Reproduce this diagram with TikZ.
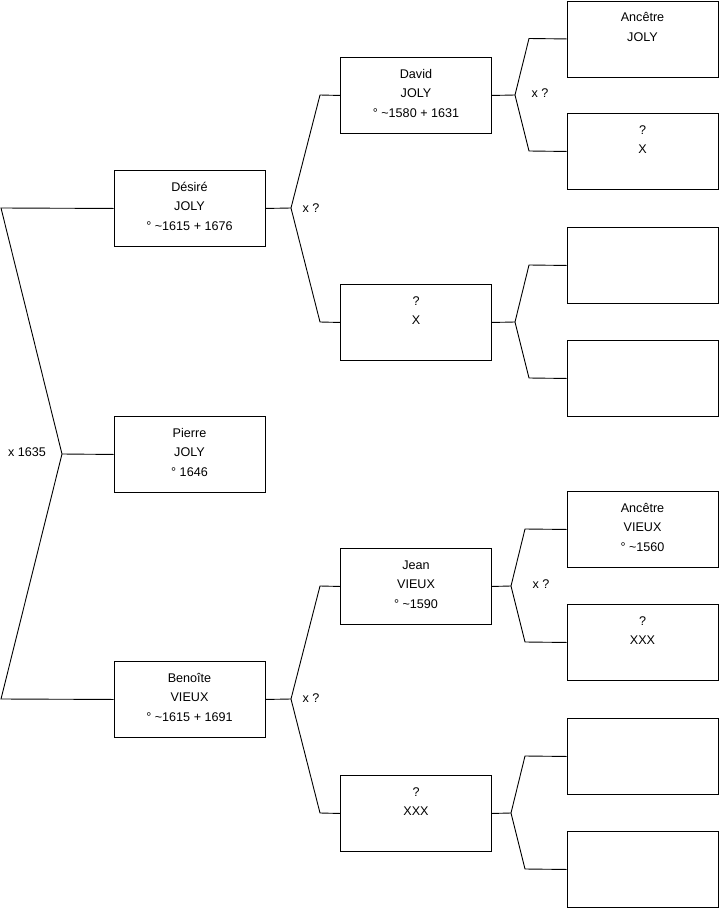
\documentclass[tikz,border=0pt]{standalone}
\usepackage{fontspec}
\setmainfont{Liberation Sans}
\begin{document}
\begin{tikzpicture}[x=1pt,y=-1pt,
  box/.style={draw=black,line width=0.9pt,minimum width=151pt,minimum height=76pt,inner sep=0pt,anchor=north},
  txt/.style={anchor=north,inner sep=0pt,align=center,font=\fontsize{12.6}{19.6}\selectfont},
  lbl/.style={inner sep=0pt,font=\fontsize{12.6}{14}\selectfont},
  conn/.style={draw=black,line width=0.9pt,line join=miter}]
\useasboundingbox (0,0) rectangle (719,908);
\newcommand{\sr}{\rule{0pt}{10pt}}
% left column
\node[box] (desire) at (189.5,170) {};
\node[box] (pierre) at (189.5,416) {};
\node[box] (benoite) at (189.5,661) {};
% middle column
\node[box] (david) at (416,57) {};
\node[box] (px) at (416,284) {};
\node[box] (jean) at (416,548) {};
\node[box] (pxxx) at (416,775) {};
% right column
\node[box] (r1) at (642.5,0.5) {};
\node[box] (r2) at (642.5,113) {};
\node[box] (r3) at (642.5,227) {};
\node[box] (r4) at (642.5,340) {};
\node[box] (r5) at (642.5,491) {};
\node[box] (r6) at (642.5,604) {};
\node[box] (r7) at (642.5,718) {};
\node[box] (r8) at (642.5,831) {};
% texts
\node[txt] (tdesire) at ([yshift=-11pt]desire.north) {\sr Désiré\\JOLY\\° \textasciitilde1615 + 1676};
\node[txt] (tpierre) at ([yshift=-11pt]pierre.north) {\sr Pierre\\JOLY\\° 1646};
\node[txt] (tbenoite) at ([yshift=-11pt]benoite.north) {\sr Benoîte\\VIEUX\\° \textasciitilde1615 + 1691};
\node[txt] (tdavid) at ([yshift=-11pt]david.north) {\sr David\\JOLY\\° \textasciitilde1580 + 1631};
\node[txt] (tpx) at ([yshift=-11pt]px.north) {\sr ?\\X};
\node[txt] (tjean) at ([yshift=-11pt]jean.north) {\sr Jean\\VIEUX\\° \textasciitilde1590};
\node[txt] (tpxxx) at ([yshift=-11pt]pxxx.north) {\sr ?\\XXX};
\node[txt] (tr1) at ([yshift=-11pt]r1.north) {\sr Ancêtre\\JOLY};
\node[txt] (tr2) at ([yshift=-11pt]r2.north) {\sr ?\\X};
\node[txt] (tr5) at ([yshift=-11pt]r5.north) {\sr Ancêtre\\VIEUX\\° \textasciitilde1560};
\node[txt] (tr6) at ([yshift=-11pt]r6.north) {\sr ?\\XXX};
% junction coordinates
\coordinate (a1) at (1,208);
\coordinate (a2) at (62,454);
\coordinate (a3) at (1,699);
\coordinate (b1) at (291,208);
\coordinate (b1u) at (320,95);
\coordinate (b1d) at (320,322);
\coordinate (b2) at (291,699);
\coordinate (b2u) at (320,586);
\coordinate (b2d) at (320,813);
\coordinate (c1) at (515,95);
\coordinate (c1u) at (529,38.5);
\coordinate (c1d) at (529,151);
\coordinate (c2) at (515,322);
\coordinate (c2u) at (529,265);
\coordinate (c2d) at (529,378);
\coordinate (c3) at (511,586);
\coordinate (c3u) at (525,529);
\coordinate (c3d) at (525,642);
\coordinate (c4) at (511,813);
\coordinate (c4u) at (525,756);
\coordinate (c4d) at (525,869);
% connectors
\draw[conn] (desire.west) -- (a1) -- (a2) -- (a3) -- (benoite.west);
\draw[conn] (a2) -- (pierre.west);
\draw[conn] (desire.east) -- (b1);
\draw[conn] (david.west) -- (b1u) -- (b1) -- (b1d) -- (px.west);
\draw[conn] (benoite.east) -- (b2);
\draw[conn] (jean.west) -- (b2u) -- (b2) -- (b2d) -- (pxxx.west);
\draw[conn] (david.east) -- (c1);
\draw[conn] (r1.west) -- (c1u) -- (c1) -- (c1d) -- (r2.west);
\draw[conn] (px.east) -- (c2);
\draw[conn] (r3.west) -- (c2u) -- (c2) -- (c2d) -- (r4.west);
\draw[conn] (jean.east) -- (c3);
\draw[conn] (r5.west) -- (c3u) -- (c3) -- (c3d) -- (r6.west);
\draw[conn] (pxxx.east) -- (c4);
\draw[conn] (r7.west) -- (c4u) -- (c4) -- (c4d) -- (r8.west);
% marriage labels
\node[lbl] (m0) at (27,452) {x 1635};
\node[lbl] (m1) at (311,208) {x ?};
\node[lbl] (m2) at (311,698) {x ?};
\node[lbl] (m3) at (540,93) {x ?};
\node[lbl] (m4) at (541,584) {x ?};
\end{tikzpicture}
\end{document}
